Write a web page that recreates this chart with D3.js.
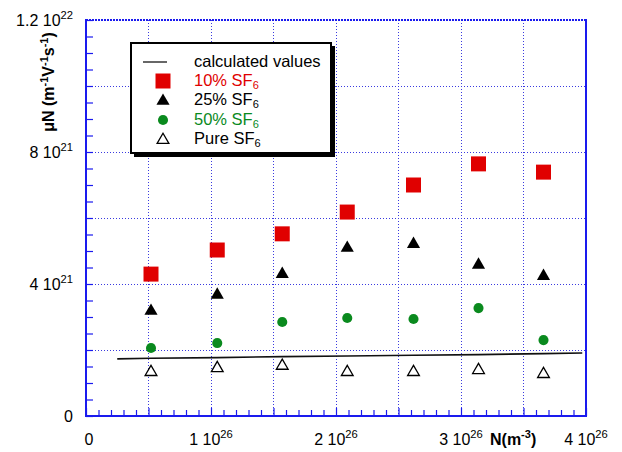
<!DOCTYPE html>
<html>
<head>
<meta charset="utf-8">
<script src="https://cdn.jsdelivr.net/npm/d3@7/dist/d3.min.js"></script>
<style>
  html, body { margin: 0; padding: 0; background: #fff; }
  svg { display: block; font-family: "Liberation Sans", Arial, sans-serif; }
</style>
</head>
<body>
<svg id="chart" width="622" height="452"></svg>
<script>
// Density N in units of 1e26 m^-3
const density = [0.52, 1.05, 1.57, 2.09, 2.62, 3.14, 3.66];
// Reduced mobility muN in units of 1e21 (m V s)^-1
const sf6_10 = [4.30, 5.03, 5.52, 6.18, 7.00, 7.64, 7.39];
const sf6_25 = [3.21, 3.70, 4.33, 5.12, 5.24, 4.61, 4.27];
const sf6_50 = [2.06, 2.21, 2.85, 2.97, 2.94, 3.27, 2.30];
const sf6_pure = [1.36, 1.48, 1.55, 1.36, 1.36, 1.42, 1.30];
// Calculated curve
const calcN = [0.25, 0.52, 1.05, 1.57, 2.09, 2.62, 3.14, 3.66, 3.97];
const calcMu = [1.73, 1.75, 1.77, 1.80, 1.82, 1.84, 1.86, 1.89, 1.91];
// Tick labels
const xTickVals = [0, 1, 2, 3, 4];
const xTickText = [["0", ""], ["1 10", "26"], ["2 10", "26"], ["3 10", "26"], ["4 10", "26"]];
const yTickVals = [0, 4, 8, 12];
const yTickText = [["0", ""], ["4 10", "21"], ["8 10", "21"], ["1.2 10", "22"]];

const svg = d3.select("#chart");
const plotL = 86, plotR = 586, plotT = 20, plotB = 416;
const axisBlue = "#1a1aee";
const gridBlue = "#3a3ae0";

const x = d3.scaleLinear().domain([0, 4]).range([plotL, plotR]);
const y = d3.scaleLinear().domain([0, 12]).range([plotB, plotT]);

// Dotted grid
const grid = svg.append("g");
grid.selectAll("line.v").data(d3.range(0.5, 4, 0.5)).join("line")
  .attr("x1", d => x(d)).attr("x2", d => x(d))
  .attr("y1", plotT).attr("y2", plotB)
  .attr("stroke", gridBlue).attr("stroke-width", 1)
  .attr("stroke-dasharray", "1,2").attr("shape-rendering", "crispEdges");
grid.selectAll("line.h").data(d3.range(2, 12, 2)).join("line")
  .attr("x1", plotL).attr("x2", plotR)
  .attr("y1", d => y(d)).attr("y2", d => y(d))
  .attr("stroke", gridBlue).attr("stroke-width", 1)
  .attr("stroke-dasharray", "1,2").attr("shape-rendering", "crispEdges");
// top frame (dotted)
grid.append("line").attr("x1", plotL).attr("x2", plotR).attr("y1", plotT).attr("y2", plotT)
  .attr("stroke", axisBlue).attr("stroke-width", 2).attr("stroke-dasharray", "2,1");

// Axes with inward ticks
const xAxis = d3.axisTop(x).tickValues(d3.range(0, 4.001, 0.1)).tickSize(0).tickFormat("");
const gx = svg.append("g").attr("transform", `translate(0,${plotB})`).call(xAxis);
gx.select(".domain").remove();
gx.selectAll(".tick line").attr("y2", (d) => (Math.abs(d * 2 - Math.round(d * 2)) < 1e-6 ? -8 : -6))
  .attr("stroke", axisBlue).attr("stroke-width", 1.2);
const yAxis = d3.axisRight(y).tickValues(d3.range(0, 12.001, 0.5)).tickSize(0).tickFormat("");
const gy = svg.append("g").attr("transform", `translate(${plotL},0)`).call(yAxis);
gy.select(".domain").remove();
gy.selectAll(".tick line").attr("x2", 7).attr("stroke", axisBlue).attr("stroke-width", 1.2);

// axis lines
svg.append("line").attr("x1", plotL).attr("x2", plotL).attr("y1", plotT - 1).attr("y2", plotB + 1)
  .attr("stroke", axisBlue).attr("stroke-width", 2);
svg.append("line").attr("x1", plotL - 1).attr("x2", plotR + 1).attr("y1", plotB).attr("y2", plotB)
  .attr("stroke", axisBlue).attr("stroke-width", 2);
svg.append("line").attr("x1", plotR).attr("x2", plotR).attr("y1", plotT - 1).attr("y2", plotB + 1)
  .attr("stroke", axisBlue).attr("stroke-width", 2);

// Tick labels with exponents
function supLabel(g, base, sup, size) {
  g.append("tspan").text(base);
  if (sup) g.append("tspan").attr("dy", -7).attr("font-size", size * 0.7).text(sup);
}
xTickVals.forEach((v, i) => {
  const t = svg.append("text").attr("x", x(v) + (i === 0 ? 3 : 0)).attr("y", 445)
    .attr("text-anchor", "middle").attr("font-size", 16).attr("fill", "#000");
  supLabel(t, xTickText[i][0], xTickText[i][1], 16);
});
yTickVals.forEach((v, i) => {
  const t = svg.append("text").attr("x", 73).attr("y", y(v) + 6)
    .attr("text-anchor", "end").attr("font-size", 16).attr("fill", "#000");
  supLabel(t, yTickText[i][0], yTickText[i][1], 16);
});

// Axis titles
const xt = svg.append("text").attr("x", 490).attr("y", 445).attr("text-anchor", "start")
  .attr("font-size", 16).attr("font-weight", "bold");
xt.append("tspan").text("N(m");
xt.append("tspan").attr("dy", -7).attr("font-size", 11).text("-3");
xt.append("tspan").attr("dy", 7).text(")");

const yt = svg.append("text").attr("transform", "translate(54,82) rotate(-90)")
  .attr("text-anchor", "middle").attr("font-size", 16).attr("font-weight", "bold");
yt.append("tspan").text("μN (m");
yt.append("tspan").attr("dy", -6).attr("font-size", 11).text("-1");
yt.append("tspan").attr("dy", 6).text("V");
yt.append("tspan").attr("dy", -6).attr("font-size", 11).text("-1");
yt.append("tspan").attr("dy", 6).text("s");
yt.append("tspan").attr("dy", -6).attr("font-size", 11).text("-1");
yt.append("tspan").attr("dy", 6).text(")");

// Calculated curve
const calc = calcN.map((n, i) => [n, calcMu[i]]);
svg.append("path").datum(calc)
  .attr("d", d3.line().x(d => x(d[0])).y(d => y(d[1])))
  .attr("fill", "none").attr("stroke", "#111").attr("stroke-width", 1.6);

// Markers
const red = "#e00000", green = "#0a8a1e";
const sq = d3.symbol().type(d3.symbolSquare).size(225);
const triF = d3.symbol().type(d3.symbolTriangle).size(75);
const triO = d3.symbol().type(d3.symbolTriangle).size(60);
const circ = d3.symbol().type(d3.symbolCircle).size(80);

function plotSeries(vals, sym, fill, stroke, sw, dy) {
  svg.append("g").selectAll("path").data(vals).join("path")
    .attr("transform", (d, i) => `translate(${x(density[i])},${y(d) + (dy || 0)})`)
    .attr("d", sym).attr("fill", fill).attr("stroke", stroke).attr("stroke-width", sw || 0);
}
plotSeries(sf6_10, sq, red, "none");
plotSeries(sf6_25, triF, "#000", "none", 0, 1);
plotSeries(sf6_50, circ, green, "none");
plotSeries(sf6_pure, triO, "#fff", "#000", 1.3, 1);

// Legend
const lg = svg.append("g");
lg.append("rect").attr("x", 134).attr("y", 46).attr("width", 201).attr("height", 111).attr("fill", "#000");
lg.append("rect").attr("x", 131).attr("y", 43).attr("width", 200).attr("height", 110)
  .attr("fill", "#fff").attr("stroke", "#000").attr("stroke-width", 2);
const rows = [
  { label: "calculated values", color: "#000", sub: false },
  { label: "10% SF", color: red, sub: true },
  { label: "25% SF", color: "#000", sub: true },
  { label: "50% SF", color: green, sub: true },
  { label: "Pure SF", color: "#000", sub: true }
];
const rowY = [62, 81, 100, 120, 139];
lg.append("line").attr("x1", 143).attr("x2", 167).attr("y1", rowY[0]).attr("y2", rowY[0])
  .attr("stroke", "#000").attr("stroke-width", 1.2);
lg.append("path").attr("transform", `translate(163,${rowY[1]})`).attr("d", sq).attr("fill", red);
lg.append("path").attr("transform", `translate(163,${rowY[2] + 1})`).attr("d", triF).attr("fill", "#000");
lg.append("path").attr("transform", `translate(163,${rowY[3]})`).attr("d", circ).attr("fill", green);
lg.append("path").attr("transform", `translate(163,${rowY[4] + 1})`).attr("d", triO)
  .attr("fill", "#fff").attr("stroke", "#000").attr("stroke-width", 1.3);
rows.forEach((r, i) => {
  const t = lg.append("text").attr("x", 194).attr("y", rowY[i] + 5).attr("font-size", 16.5).attr("fill", r.color);
  t.append("tspan").text(r.label);
  if (r.sub) t.append("tspan").attr("dy", 3).attr("font-size", 11).text("6");
});
</script>
</body>
</html>
